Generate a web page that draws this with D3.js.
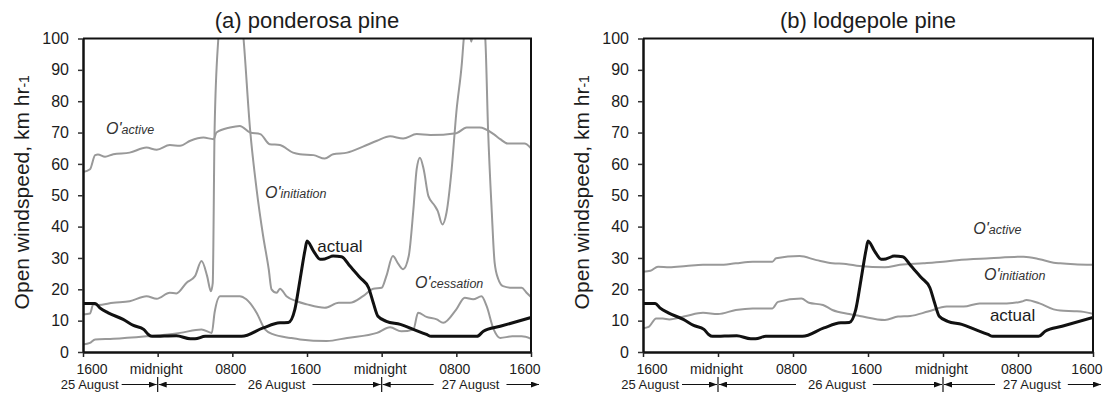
<!DOCTYPE html>
<html><head><meta charset="utf-8">
<script src="https://cdn.jsdelivr.net/npm/d3@7"></script>
<style>
body{margin:0;background:#fff}
text{font-family:"Liberation Sans",Arial,Helvetica,sans-serif}
</style>
</head><body>
<svg id="c" width="1114" height="401"></svg>
<script>
// ---------- data ----------
const xTickHours = [0, 8, 16, 24, 32, 40, 48];
const xTickLabels = ["1600", "midnight", "0800", "1600", "midnight", "0800", "1600"];
const yTicks = [0, 10, 20, 30, 40, 50, 60, 70, 80, 90, 100];
const dayLabels = ["25 August", "26 August", "27 August"];
const midnightHours = [8, 32];
const panelTitles = ["(a) ponderosa pine", "(b) lodgepole pine"];
const yAxisTitle = "Open windspeed, km hr";
const yAxisTitleSuffix = "-1";

// hours since 1600 on 25 August, wind speed km/h
const actual = [[0,15.5],[1.3,15.5],[1.8,14.1],[2.7,12.5],[4.3,10.4],[5.4,8.5],[6.5,7.2],[7,5.6],[7.4,5],[10,5.2],[11.5,4.2],[12,4.2],[13.1,5],[17,5],[19.3,7.7],[21.1,9.3],[22,9.4],[22.7,13.6],[23.25,23],[23.8,32.7],[24,35.4],[24.7,32.2],[25.4,29.6],[25.9,29.7],[26.8,30.6],[27.7,30.4],[28.6,27.4],[29.7,23.7],[30.6,20.5],[31.1,15.7],[31.6,11.4],[32.5,9.8],[34,8.8],[35.4,7.2],[36.8,5.6],[37.3,5],[42.2,5],[42.9,6.6],[44.7,8.2],[48,11]];

const ponderosaActive = [[0,57.4],[0.75,58.3],[1.3,62.8],[1.6,63],[2.36,62.3],[3.25,63.1],[5,63.6],[6.8,65.2],[7.9,64.5],[9.3,66],[10.4,65.8],[11.5,67.4],[12.9,68.4],[14,67.9],[14.3,70],[15.75,71.6],[16.8,72.1],[17.9,70],[19,69.5],[20,66.3],[21.1,66],[22.5,63.6],[23.25,63.1],[24.7,62.8],[25.9,61.7],[26.8,63.1],[28.3,63.6],[30,65.5],[31.5,67.4],[32.9,68.8],[34.3,68.1],[35.75,69.5],[37.2,69.2],[40,69.8],[41.1,71.6],[42.5,71.6],[44,69.5],[44.7,67.9],[45.5,66.5],[47.3,66.5],[48,65]];

const ponderosaInitiation = [[0,12],[0.75,12.3],[1.1,15.2],[1.6,15],[3.25,15.7],[5,16.2],[6.8,17.8],[7.9,17],[9.3,18.9],[10,18.7],[11.1,22.1],[12,24.2],[12.7,29],[13.3,24.2],[13.7,19.4],[13.9,22],[14.1,71],[14.5,100],[15.5,125],[16.3,125],[17.2,100],[17.9,71],[18.6,51.9],[19.3,37],[19.9,26.4],[20.2,20],[20.75,18.9],[21.1,20.2],[21.8,17.8],[22.9,16.2],[24,15.2],[25.9,14.1],[27.4,15.7],[28.6,15.7],[30,17.8],[31.1,20.2],[32,20.5],[32.5,24.2],[33.2,30.6],[33.8,28],[34.3,26.4],[34.9,30.6],[35.4,45.5],[35.75,58.3],[36.1,62],[36.5,58.3],[37,49.8],[37.7,46.6],[38,45],[38.5,40.7],[38.95,44.5],[39.5,58.3],[40,76.4],[40.6,92.4],[40.8,100],[41.2,106],[41.6,99],[42,106],[42.6,110],[43.1,100],[43.4,71],[43.8,44.6],[44.1,28.6],[44.5,23.2],[45,21],[46,20.5],[47,20.5],[47.5,19],[48,17.5]];

const ponderosaCessation = [[0,2.4],[0.75,2.9],[1.3,4],[3.25,4.2],[6.8,5],[10.4,6.1],[12.7,7.2],[13.8,6.1],[14.1,12.6],[14.7,17.8],[16.8,17.8],[17.5,16.8],[18.6,12.5],[19.5,7.2],[20.4,5.6],[22.2,4.5],[23.25,4],[26.1,3.5],[28.3,4.5],[31.5,6.1],[32.9,7.9],[34.1,6.6],[35.4,7.2],[35.9,12.5],[36.8,11.2],[37.9,10.4],[38.6,9.3],[40,13.6],[40.9,17.3],[41.8,16.8],[42.7,17.8],[43.25,14.6],[44,7.2],[44.7,4.5],[46,5],[47,5],[48,4.2]];

const lodgepoleActive = [[0,25.6],[0.8,25.9],[1.6,27.2],[2.8,27],[4.6,27.4],[6.4,27.8],[8.1,27.8],[9.9,28.3],[11.7,28.8],[13.8,28.8],[14.2,29.9],[16.7,30.6],[18.5,29.3],[20.2,28.3],[21.65,28.1],[23.1,27.4],[25.8,27],[27.4,27.8],[29.9,28.3],[32,28.8],[33.5,29.3],[37,29.9],[40.6,30.4],[42.3,29.6],[43.8,28.5],[44.5,28.3],[46,28],[48,27.8]];

const lodgepoleInitiation = [[0,7.6],[0.6,8],[1.4,10.7],[2.1,10.7],[2.8,10.4],[4.6,11.5],[6.4,12.5],[8,12.1],[9.9,13.4],[11.7,13.9],[13.8,13.9],[14.4,16],[16.9,17.1],[17.7,15.7],[19.2,15],[20.2,13.4],[22,12.1],[23.1,11.5],[25.8,10.2],[27.2,11.3],[28.5,11.5],[30.4,12.9],[32.4,14.5],[34.2,14.5],[35.9,15.5],[38.8,15.5],[40.4,16.1],[40.9,16.6],[42.3,15.5],[43.8,13.6],[44.5,13.2],[46,13],[47,12.8],[48,12.2]];

const ponderosaSeriesNames = ["active", "initiation", "cessation"];
const lodgepoleSeriesNames = ["active", "initiation"];

// ---------- layout ----------
const svg = d3.select("#c");
const yTop = 38.5, yBot = 352;
const GRAY = "#999", INK = "#111", TXT = "#1c1c1c";
const y = d3.scaleLinear().domain([0, 100]).range([yBot, yTop]);

const panels = [
  { x0: 83, x1: 531, title: panelTitles[0],
    series: [ponderosaActive, ponderosaInitiation, ponderosaCessation],
    names: ponderosaSeriesNames,
    namePos: [[2.46, 69.4], [19.5, 49.0], [35.57, 20.5]],
    actualPos: [25.1, 32.0] },
  { x0: 643, x1: 1093, title: panelTitles[1],
    series: [lodgepoleActive, lodgepoleInitiation],
    names: lodgepoleSeriesNames,
    namePos: [[35.23, 37.6], [36.37, 23.0]],
    actualPos: [37.0, 10.0] }
];

const defs = svg.append("defs");
defs.append("marker").attr("id", "arr").attr("viewBox", "0 0 8 6")
  .attr("refX", 8).attr("refY", 3).attr("markerWidth", 8).attr("markerHeight", 6)
  .attr("markerUnits", "userSpaceOnUse").attr("orient", "auto")
  .append("path").attr("d", "M0,0L8,3L0,6Z").attr("fill", INK);

panels.forEach((p, i) => {
  const x = d3.scaleLinear().domain([0, 48]).range([p.x0, p.x1]);
  const g = svg.append("g");

  defs.append("clipPath").attr("id", "clip" + i).append("rect")
    .attr("x", p.x0).attr("y", yTop).attr("width", p.x1 - p.x0).attr("height", yBot - yTop);

  const line = d3.line().x(d => x(d[0])).y(d => y(d[1])).curve(d3.curveMonotoneX);
  const lg = g.append("g").attr("clip-path", `url(#clip${i})`);
  p.series.forEach(s => lg.append("path").datum(s).attr("fill", "none")
    .attr("stroke", GRAY).attr("stroke-width", 2).attr("stroke-linejoin", "round").attr("d", line));
  lg.append("path").datum(actual).attr("fill", "none").attr("stroke", INK)
    .attr("stroke-width", 3).attr("stroke-linejoin", "round").attr("d", line);

  // frame top/right
  g.append("path").attr("d", `M${p.x0},${yTop}H${p.x1}V${yBot}`)
    .attr("fill", "none").attr("stroke", INK).attr("stroke-width", 2);

  // y axis
  const ya = g.append("g").attr("transform", `translate(${p.x0},0)`)
    .call(d3.axisLeft(y).tickValues(yTicks).tickSize(5).tickSizeOuter(0).tickPadding(9));
  ya.select(".domain").attr("stroke", INK).attr("stroke-width", 2.5);
  ya.selectAll(".tick line").attr("stroke", "#333").attr("stroke-width", 1.5);
  ya.selectAll(".tick text").attr("font-size", 16).attr("fill", TXT)
    .style("font-family", '"Liberation Sans",Arial,sans-serif');

  // x axis
  const xa = g.append("g").attr("transform", `translate(0,${yBot})`)
    .call(d3.axisBottom(x).tickValues(xTickHours).tickFormat((d, k) => xTickLabels[k])
      .tickSize(5).tickSizeOuter(0).tickPadding(7));
  xa.select(".domain").attr("stroke", INK).attr("stroke-width", 2.5);
  xa.selectAll(".tick line").attr("stroke", "#222").attr("stroke-width", 1.5);
  const n = xTickHours.length;
  xa.selectAll(".tick text").attr("font-size", 14).attr("fill", TXT)
    .style("font-family", '"Liberation Sans",Arial,sans-serif')
    .attr("text-anchor", (d, k) => k === 0 ? "start" : (k === n - 1 ? "end" : "middle"))
    .attr("x", (d, k) => k === 0 ? -7 : (k === n - 1 ? 9 : -2));

  // title
  g.append("text").attr("x", (p.x0 + p.x1) / 2).attr("y", 28).attr("text-anchor", "middle")
    .attr("font-size", 22).attr("fill", TXT).text(p.title);

  // y axis title
  const yt = g.append("text").attr("transform", `translate(${p.x0 - 54},${(yTop + yBot) / 2 - 3}) rotate(-90)`)
    .attr("text-anchor", "middle").attr("font-size", 21).attr("fill", TXT);
  yt.append("tspan").text(yAxisTitle);
  yt.append("tspan").attr("font-size", 14).text(yAxisTitleSuffix);

  // series labels
  p.names.forEach((nm, k) => {
    const t = g.append("text").attr("x", x(p.namePos[k][0])).attr("y", y(p.namePos[k][1]))
      .attr("font-style", "italic").attr("fill", "#333");
    t.append("tspan").attr("font-size", 16).text("O'");
    t.append("tspan").attr("font-size", 12.5).text(nm);
  });
  g.append("text").attr("x", x(p.actualPos[0])).attr("y", y(p.actualPos[1]))
    .attr("font-size", 17).attr("fill", TXT).text("actual");

  // day labels with arrows
  const dy = 389, ly = 384.5;
  const m0 = x(midnightHours[0]), m1 = x(midnightHours[1]);
  const dg = g.append("g");
  const arrow = (xa1, xa2) => dg.append("line").attr("x1", xa1).attr("y1", ly).attr("x2", xa2).attr("y2", ly)
    .attr("stroke", INK).attr("stroke-width", 1).attr("marker-end", "url(#arr)");
  const t1 = dg.append("text").attr("x", m0 - 39).attr("y", dy).attr("text-anchor", "end")
    .attr("font-size", 13).attr("fill", TXT).text(dayLabels[0]);
  arrow(m0 - 36, m0 - 1);
  arrow(m0 + 78, m0 + 1);
  const t2 = dg.append("text").attr("x", m0 + 90).attr("y", dy)
    .attr("font-size", 13).attr("fill", TXT).text(dayLabels[1]);
  const t2end = m0 + 90 + t2.node().getComputedTextLength();
  arrow(t2end + 7, m1 - 1);
  arrow(m1 + 52, m1 + 1);
  const t3 = dg.append("text").attr("x", m1 + 60).attr("y", dy)
    .attr("font-size", 13).attr("fill", TXT).text(dayLabels[2]);
  const t3end = m1 + 60 + t3.node().getComputedTextLength();
  arrow(t3end + 7, x(48) + 8);
  [m0, m1].forEach(m => dg.append("line").attr("x1", m).attr("x2", m).attr("y1", 377).attr("y2", 392)
    .attr("stroke", INK).attr("stroke-width", 1.2));
});
</script>
</body></html>
